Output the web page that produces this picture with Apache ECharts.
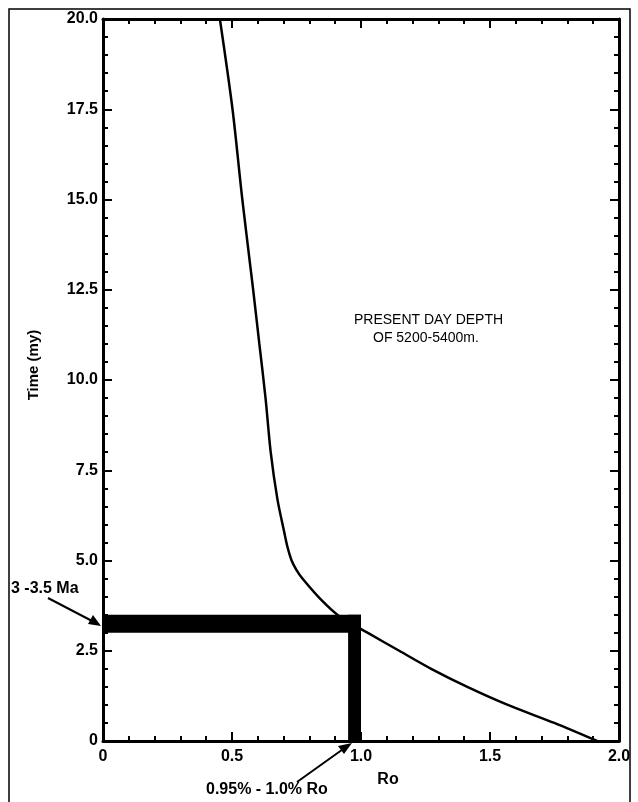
<!DOCTYPE html>
<html>
<head>
<meta charset="utf-8">
<script src="https://cdn.jsdelivr.net/npm/echarts@6/dist/echarts.min.js"></script>
<style>
  html, body { margin: 0; padding: 0; background: #fff; }
  #chart { width: 638px; height: 802px; }
</style>
</head>
<body>
<div id="chart"></div>
<script>
    // Ro curve, top (20 my) to bottom (0)
    var curveTime = [20, 17.5, 15, 12.5, 11, 9.5, 8, 6.7, 5.8, 5.4, 5.0, 4.75, 4.5, 3.9, 3.45, 3.0, 2.5, 2.0, 1.5, 1.0, 0.5, 0];
    var curveRo   = [0.453, 0.502, 0.540, 0.582, 0.606, 0.630, 0.650, 0.676, 0.702, 0.714, 0.731, 0.749, 0.773, 0.847, 0.917, 1.025, 1.148, 1.272, 1.412, 1.569, 1.749, 1.915];

    // highlighted window: 3 - 3.5 Ma and 0.95 - 1.0 % Ro
    var timeBand = [3.0, 3.5];
    var roBand = [0.95, 1.0];

    var xTicks = ['0', '0.5', '1.0', '1.5', '2.0'];
    var yTicks = ['0', '2.5', '5.0', '7.5', '10.0', '12.5', '15.0', '17.5', '20.0'];

    var curveData = curveTime.map(function(t, i){ return [curveRo[i], t]; });

    var font = 'Liberation Sans';
    var black = '#000';

    var axisCommon = {
        type: 'value',
        axisLine: { show: true, onZero: false, lineStyle: { color: black, width: 3 } },
        axisTick: { show: true, inside: true, length: 9, lineStyle: { color: black, width: 2 } },
        minorTick: { show: true, splitNumber: 5, length: 5, lineStyle: { color: black, width: 2 } },
        splitLine: { show: false },
        minorSplitLine: { show: false }
    };

    function xAxisOf(pos, showLabel){
        return Object.assign({}, axisCommon, {
            position: pos, min: 0, max: 2, interval: 0.5,
            axisLabel: {
                show: showLabel, color: black, fontFamily: font, fontWeight: 'bold', fontSize: 16, margin: 8,
                formatter: function(v){ return xTicks[Math.round(v / 0.5)]; }
            }
        });
    }
    function yAxisOf(pos, showLabel){
        return Object.assign({}, axisCommon, {
            position: pos, min: 0, max: 20, interval: 2.5,
            axisLabel: {
                show: showLabel, color: black, fontFamily: font, fontWeight: 'bold', fontSize: 16, margin: 5,
                formatter: function(v){ return yTicks[Math.round(v / 2.5)]; }
            }
        });
    }

    var chart = echarts.init(document.getElementById('chart'), null, { renderer: 'canvas' });
    chart.setOption({
        backgroundColor: '#fff',
        animation: false,
        grid: { left: 103, right: 19, top: 19, bottom: 61, containLabel: false },
        xAxis: [xAxisOf('bottom', true), xAxisOf('top', false)],
        yAxis: [yAxisOf('left', true), yAxisOf('right', false)],
        series: [{
            type: 'line',
            data: curveData,
            smooth: 0.3,
            showSymbol: false,
            clip: true,
            lineStyle: { color: black, width: 2.5 },
            markArea: {
                silent: true,
                itemStyle: { color: black, opacity: 1 },
                data: [
                    [{ xAxis: 0, yAxis: timeBand[0] }, { xAxis: roBand[1], yAxis: timeBand[1] }],
                    [{ xAxis: roBand[0], yAxis: 0 }, { xAxis: roBand[1], yAxis: timeBand[1] }]
                ]
            }
        }],
        graphic: [
            // outer frame of the figure
            { type: 'polyline', shape: { points: [[9, 810], [9, 9], [630, 9], [630, 810]] },
              style: { fill: null, stroke: black, lineWidth: 1.5 } },
            { type: 'text', left: 354, top: 313,
              style: { text: 'PRESENT DAY DEPTH', font: '14px "Liberation Sans"', fill: black } },
            { type: 'text', left: 373, top: 331,
              style: { text: 'OF 5200-5400m.', font: '14px "Liberation Sans"', fill: black } },
            { type: 'text', x: 34, y: 365, rotation: Math.PI / 2,
              style: { text: 'Time (my)', font: 'bold 15px "Liberation Sans"', fill: black, align: 'center', verticalAlign: 'middle' } },
            { type: 'text', x: 388, y: 780,
              style: { text: 'Ro', font: 'bold 16px "Liberation Sans"', fill: black, align: 'center', verticalAlign: 'middle' } },
            { type: 'text', x: 11, y: 589,
              style: { text: '3 -3.5 Ma', font: 'bold 16px "Liberation Sans"', fill: black, verticalAlign: 'middle' } },
            { type: 'text', x: 206, y: 790,
              style: { text: '0.95% - 1.0% Ro', font: 'bold 16px "Liberation Sans"', fill: black, verticalAlign: 'middle' } },
            { type: 'line', shape: { x1: 48, y1: 598, x2: 94, y2: 622 }, style: { stroke: black, lineWidth: 2 } },
            { type: 'polygon', shape: { points: [[101, 626], [88, 624], [93, 615]] }, style: { fill: black } },
            { type: 'line', shape: { x1: 297, y1: 782, x2: 346, y2: 747 }, style: { stroke: black, lineWidth: 2 } },
            { type: 'polygon', shape: { points: [[352, 743], [344, 754], [338, 746]] }, style: { fill: black } }
        ]
    });
</script>
</body>
</html>
